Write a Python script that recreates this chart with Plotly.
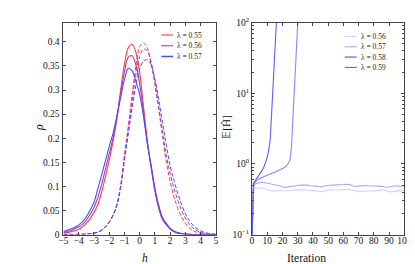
import plotly.graph_objects as go
from plotly.subplots import make_subplots

# ---------------- left panel data: density rho(h) ----------------
H = [-5.0, -4.75, -4.5, -4.25, -4.0, -3.75, -3.5, -3.25, -3.0, -2.75, -2.5, -2.25,
     -2.0, -1.75, -1.5, -1.25, -1.0, -0.75, -0.5, -0.25, 0.0, 0.25, 0.5, 0.75,
     1.0, 1.25, 1.5, 1.75, 2.0, 2.25, 2.5, 2.75, 3.0, 3.25, 3.5, 3.75, 4.0, 4.25,
     4.5, 4.75, 5.0]

LAMBDAS_LEFT = ["0.55", "0.56", "0.57"]

RHO_SOLID_055 = [0.003, 0.004, 0.006, 0.008, 0.011, 0.016, 0.023, 0.033, 0.046, 0.062, 0.088, 0.120,
                 0.155, 0.193, 0.240, 0.300, 0.354, 0.388, 0.395, 0.378, 0.335, 0.265, 0.195, 0.140,
                 0.090, 0.054, 0.031, 0.020, 0.011, 0.006, 0.003, 0.0015, 0.0007, 0.0003, 0.0001, 0.0,
                 0.0, 0.0, 0.0, 0.0, 0.0]
RHO_SOLID_056 = [0.0045, 0.0065, 0.009, 0.012, 0.016, 0.021, 0.030, 0.042, 0.056, 0.077, 0.104, 0.136,
                 0.168, 0.200, 0.242, 0.293, 0.338, 0.368, 0.371, 0.352, 0.312, 0.254, 0.190, 0.140,
                 0.092, 0.056, 0.032, 0.021, 0.012, 0.0065, 0.0035, 0.0017, 0.0008, 0.0004, 0.0002, 0.0001,
                 0.0, 0.0, 0.0, 0.0, 0.0]
RHO_SOLID_057 = [0.0066, 0.009, 0.012, 0.015, 0.020, 0.027, 0.037, 0.051, 0.067, 0.095, 0.124, 0.153,
                 0.183, 0.210, 0.246, 0.285, 0.322, 0.345, 0.340, 0.318, 0.290, 0.245, 0.188, 0.143,
                 0.096, 0.060, 0.035, 0.023, 0.013, 0.0075, 0.004, 0.002, 0.001, 0.0005, 0.0002, 0.0001,
                 0.0, 0.0, 0.0, 0.0, 0.0]

RHO_DASH_055 = [0.0, 0.0, 0.0, 0.0001, 0.0003, 0.0006, 0.001, 0.002, 0.003, 0.005, 0.009, 0.016,
                0.026, 0.040, 0.062, 0.101, 0.165, 0.225, 0.290, 0.350, 0.390, 0.398, 0.387, 0.355,
                0.310, 0.258, 0.203, 0.150, 0.110, 0.078, 0.054, 0.036, 0.023, 0.014, 0.008, 0.0045,
                0.0025, 0.0012, 0.0006, 0.0003, 0.0001]
RHO_DASH_056 = [0.0, 0.0, 0.0, 0.0001, 0.0003, 0.0006, 0.001, 0.002, 0.003, 0.005, 0.009, 0.016,
                0.026, 0.040, 0.062, 0.100, 0.160, 0.218, 0.278, 0.332, 0.370, 0.385, 0.381, 0.357,
                0.317, 0.265, 0.212, 0.163, 0.126, 0.096, 0.071, 0.050, 0.034, 0.022, 0.013, 0.008,
                0.0045, 0.0025, 0.0012, 0.0006, 0.0003]
RHO_DASH_057 = [0.0, 0.0, 0.0, 0.0001, 0.0003, 0.0006, 0.001, 0.002, 0.003, 0.005, 0.009, 0.016,
                0.026, 0.040, 0.061, 0.098, 0.155, 0.208, 0.262, 0.310, 0.344, 0.360, 0.363, 0.352,
                0.322, 0.280, 0.232, 0.185, 0.142, 0.112, 0.085, 0.062, 0.043, 0.029, 0.019, 0.012,
                0.0075, 0.0045, 0.0025, 0.0013, 0.0007]

# ---------------- right panel data: E[H] vs iteration ----------------
LAMBDAS_RIGHT = ["0.56", "0.57", "0.58", "0.59"]

ITER_FLAT = [0, 1, 2, 4, 6, 8, 10, 12, 14, 16, 18, 20, 22, 24, 26, 28, 30, 32, 34, 36, 38, 40,
             42, 44, 46, 48, 50, 52, 54, 56, 58, 60, 62, 64, 66, 68, 70, 72, 74, 76, 78, 80,
             82, 84, 86, 88, 90, 92, 94, 96, 98, 100]
E_056 = [0.07, 0.40, 0.45, 0.46, 0.46, 0.45, 0.43, 0.418, 0.415, 0.415, 0.413, 0.41, 0.41, 0.415,
         0.42, 0.425, 0.43, 0.435, 0.432, 0.428, 0.42, 0.418, 0.415, 0.41, 0.405, 0.418, 0.428,
         0.43, 0.428, 0.43, 0.435, 0.438, 0.44, 0.438, 0.425, 0.412, 0.405, 0.41, 0.415, 0.418,
         0.415, 0.415, 0.42, 0.425, 0.43, 0.42, 0.405, 0.402, 0.41, 0.418, 0.415, 0.418]
E_057 = [0.07, 0.45, 0.52, 0.54, 0.55, 0.545, 0.535, 0.52, 0.51, 0.50, 0.49, 0.475, 0.462, 0.475,
         0.485, 0.49, 0.495, 0.503, 0.507, 0.50, 0.49, 0.49, 0.485, 0.478, 0.475, 0.49, 0.50,
         0.503, 0.50, 0.50, 0.505, 0.51, 0.515, 0.51, 0.49, 0.478, 0.485, 0.495, 0.495, 0.49,
         0.49, 0.487, 0.49, 0.485, 0.478, 0.468, 0.472, 0.487, 0.49, 0.485, 0.483, 0.50]

ITER_058 = [0, 1, 2, 3, 4, 5, 6, 7, 8, 9, 10, 11, 12, 13, 14, 15, 16, 17, 18, 19, 20, 21, 22,
            23, 24, 25, 26, 27, 28, 29, 30, 31]
E_058 = [0.07, 0.50, 0.55, 0.58, 0.60, 0.62, 0.635, 0.65, 0.66, 0.675, 0.69, 0.705, 0.72, 0.735,
         0.75, 0.765, 0.78, 0.80, 0.82, 0.84, 0.86, 0.88, 0.91, 0.95, 1.02, 1.15, 1.75, 4.8, 13.0,
         36.0, 95.0, 250.0]

ITER_059 = [0, 1, 2, 3, 4, 5, 6, 7, 8, 9, 10, 11, 12, 13, 14, 15, 16, 17]
E_059 = [0.07, 0.53, 0.57, 0.61, 0.65, 0.70, 0.76, 0.83, 0.92, 1.05, 1.22, 1.55, 2.2, 5.5, 14.0,
         35.0, 95.0, 250.0]

LEFT_X_TICKS = [-5, -4, -3, -2, -1, 0, 1, 2, 3, 4, 5]
RIGHT_X_TICKS = [0, 10, 20, 30, 40, 50, 60, 70, 80, 90, 100]
RIGHT_Y_TICKS = [0.1, 1, 10, 100]
RIGHT_Y_LABELS = ["10<sup>\u22121</sup>", "10<sup>0</sup>", "10<sup>1</sup>", "10<sup>2</sup>"]

# ---------------- styling ----------------
FONT = "Liberation Serif"
AX = "#444444"
LEFT_COLORS = ["#ff3b3b", "#a040b8", "#4a4aff"]
RIGHT_COLORS = ["#d2d2ff", "#a6a6ff", "#8585ff", "#5f5fff"]

fig = make_subplots(rows=1, cols=2)

solids = [RHO_SOLID_055, RHO_SOLID_056, RHO_SOLID_057]
dashes = [RHO_DASH_055, RHO_DASH_056, RHO_DASH_057]
for lam, ys, yd, c in zip(LAMBDAS_LEFT, solids, dashes, LEFT_COLORS):
    fig.add_trace(go.Scatter(x=H, y=ys, mode="lines", line=dict(color=c, width=1.1, shape="spline"),
                             name="\u03bb = " + lam, showlegend=False), row=1, col=1)
    fig.add_trace(go.Scatter(x=H, y=yd, mode="lines",
                             line=dict(color=c, width=1.0, shape="spline", dash="4px,2px"),
                             showlegend=False), row=1, col=1)

right_series = [(ITER_FLAT, E_056), (ITER_FLAT, E_057), (ITER_058, E_058), (ITER_059, E_059)]
for lam, (xs, ys), c in zip(LAMBDAS_RIGHT, right_series, RIGHT_COLORS):
    fig.add_trace(go.Scatter(x=xs, y=ys, mode="lines", line=dict(color=c, width=1.1),
                             name="\u03bb = " + lam, showlegend=False), row=1, col=2)

common = dict(showline=True, linecolor=AX, linewidth=1, mirror="allticks", ticks="inside",
              ticklen=3, tickcolor=AX, showgrid=False, zeroline=False,
              tickfont=dict(family=FONT, size=9.5, color="#111"))

fig.update_xaxes(domain=[0.1253, 0.5036], range=[-5, 5], tickvals=LEFT_X_TICKS,
                 ticklabelstandoff=-3, row=1, col=1, **common)
fig.update_yaxes(domain=[0.1288, 0.9697], range=[0, 0.44], dtick=0.05, tick0=0,
                 ticklabelstandoff=1, row=1, col=1, **common)
fig.update_xaxes(domain=[0.5928, 0.9711], range=[0, 100], tickvals=RIGHT_X_TICKS,
                 ticklabelstandoff=-3, row=1, col=2, **common)
fig.update_yaxes(domain=[0.1288, 0.9697], type="log", range=[-1, 2], tickvals=RIGHT_Y_TICKS,
                 ticktext=RIGHT_Y_LABELS, row=1, col=2,
                 minor=dict(ticks="inside", ticklen=2, tickcolor=AX,
                            tickvals=[m * 10.0 ** e for e in (-1, 0, 1) for m in range(2, 10)]),
                 **common)

# ---------------- compact legends (pgfplots style) ----------------
shapes = []
annotations = []
LEG_FONT = dict(family=FONT, size=7.5, color="#222")


def add_legend(labels, colors, x_line0, x_line1, x_text, y_top, row_gap, widths):
    for i, (lab, col) in enumerate(zip(labels, colors)):
        yy = y_top - i * row_gap
        shapes.append(dict(type="line", xref="paper", yref="paper", x0=x_line0, x1=x_line1,
                           y0=yy, y1=yy, line=dict(color=col, width=widths[i])))
        annotations.append(dict(text="\u03bb = " + lab, x=x_text, y=yy, xref="paper", yref="paper",
                                xanchor="left", yanchor="middle", showarrow=False, font=LEG_FONT))


add_legend(LAMBDAS_LEFT, LEFT_COLORS, 0.368, 0.397, 0.402, 0.9205, 0.0425, [1.1, 1.1, 1.4])
add_legend(LAMBDAS_RIGHT, RIGHT_COLORS, 0.823, 0.853, 0.858, 0.915, 0.041, [1.1, 1.1, 1.6, 1.1])

annotations += [
    dict(text="<i>h</i>", x=0.315, y=0.035, xref="paper", yref="paper", showarrow=False,
         yanchor="middle", font=dict(family=FONT, size=11.5, color="#111")),
    dict(text="<i>\u03c1</i>", x=0.042, y=0.555, xref="paper", yref="paper", showarrow=False,
         textangle=-90, font=dict(family=FONT, size=12, color="#111")),
    dict(text="Iteration", x=0.782, y=0.036, xref="paper", yref="paper", showarrow=False,
         yanchor="middle", font=dict(family=FONT, size=11.5, color="#111")),
    dict(text="\U0001D53C[\u0124]", x=0.53, y=0.555, xref="paper", yref="paper", showarrow=False,
         textangle=-90, font=dict(family=FONT, size=11, color="#111")),
]

fig.update_layout(
    width=415, height=264, margin=dict(l=0, r=0, t=0, b=0),
    paper_bgcolor="white", plot_bgcolor="white",
    showlegend=False, shapes=shapes, annotations=annotations,
)

fig.write_html("out.html")
